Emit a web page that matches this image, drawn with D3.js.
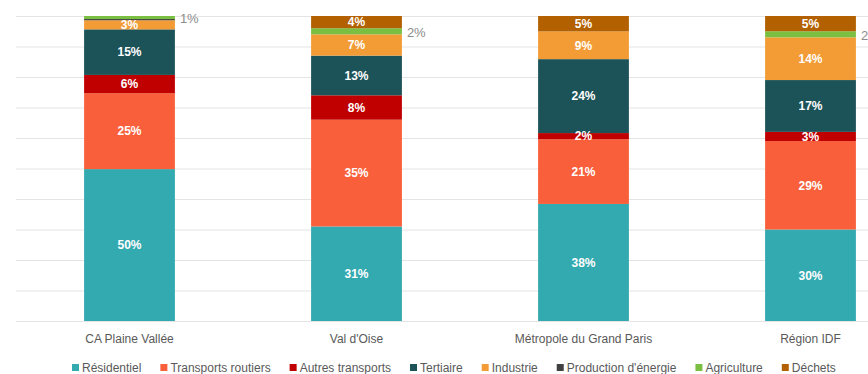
<!DOCTYPE html>
<html>
<head>
<meta charset="utf-8">
<script src="https://cdn.jsdelivr.net/npm/d3@7/dist/d3.min.js"></script>
<style>
  html, body { margin: 0; padding: 0; background: #fff; }
  svg { display: block; font-family: "Liberation Sans", Arial, sans-serif; }
</style>
</head>
<body>
<svg id="chart" width="868" height="374"></svg>
<script>
// Territories (categories)
const territories = ["CA Plaine Vallée", "Val d'Oise", "Métropole du Grand Paris", "Région IDF"];

// Emission sectors, bottom to top of each stack
const sectors = ["Résidentiel", "Transports routiers", "Autres transports", "Tertiaire",
                 "Industrie", "Production d'énergie", "Agriculture", "Déchets"];
const sectorColors = ["#33a9b0", "#f95f3a", "#c00000", "#1c5358",
                      "#f39c35", "#404040", "#7abf42", "#b36000"];

// Share of each sector (%) per territory, same order as territories
const residentiel        = [50, 31, 38, 30];
const transportsRoutiers = [25, 35, 21, 29];
const autresTransports   = [6, 8, 2, 3];
const tertiaire          = [15, 13, 24, 17];
const industrie          = [3, 7, 9, 14];
const productionEnergie  = [0.4, 0, 0, 0];
const agriculture        = [1, 2, 0, 2];
const dechets            = [0, 4, 5, 5];

// Percentage gridlines
const gridTicks = [0, 0.1, 0.2, 0.3, 0.4, 0.5, 0.6, 0.7, 0.8, 0.9, 1];

const seriesValues = [residentiel, transportsRoutiers, autresTransports, tertiaire,
                      industrie, productionEnergie, agriculture, dechets];

const rows = territories.map((t, i) => {
  const r = { territory: t };
  sectors.forEach((s, k) => { r[s] = seriesValues[k][i]; });
  return r;
});

const svg = d3.select("#chart");
const margin = { left: 16, top: 16, bottom: 53 };
const plotW = 908;
const plotH = 374 - margin.top - margin.bottom;

const x = d3.scaleBand().domain(territories).range([margin.left, margin.left + plotW])
  .paddingInner(0.6).paddingOuter(0.3);
const y = d3.scaleLinear().domain([0, 1]).range([margin.top + plotH, margin.top]);

// 100% stacked columns
const stacked = d3.stack().keys(sectors).offset(d3.stackOffsetExpand)(rows);

// Gridlines
svg.append("g")
  .attr("transform", `translate(${margin.left},0)`)
  .call(d3.axisLeft(y).tickValues(gridTicks).tickSize(-plotW).tickFormat(""))
  .call(g => g.select(".domain").remove())
  .call(g => g.selectAll(".tick line").attr("stroke", "#e4e4e4").attr("stroke-width", 1));

// Bars
const layers = svg.append("g").selectAll("g")
  .data(stacked).join("g")
  .attr("fill", (d, k) => sectorColors[k]);

layers.selectAll("rect")
  .data(d => d.map(p => ({ p, key: d.key })))
  .join("rect")
  .attr("x", d => x(d.p.data.territory))
  .attr("width", x.bandwidth())
  .attr("y", d => y(d.p[1]))
  .attr("height", d => Math.max(0, y(d.p[0]) - y(d.p[1])));

// Value labels: white inside the segment, grey to the right for thin Agriculture slices
const labels = [];
stacked.forEach((layer, k) => {
  layer.forEach(p => {
    const v = p.data[layer.key];
    if (v < 1) return;
    labels.push({ key: layer.key, v, p, k });
  });
});

svg.append("g").selectAll("text")
  .data(labels).join("text")
  .attr("x", d => d.key === "Agriculture"
      ? x(d.p.data.territory) + x.bandwidth() + 5
      : x(d.p.data.territory) + x.bandwidth() / 2)
  .attr("y", d => {
    const mid = (y(d.p[0]) + y(d.p[1])) / 2;
    return d.key === "Agriculture" ? mid + 1 : mid;
  })
  .attr("dy", "0.36em")
  .attr("text-anchor", d => d.key === "Agriculture" ? "start" : "middle")
  .attr("fill", d => d.key === "Agriculture" ? "#8c8c8c" : "#ffffff")
  .attr("font-size", d => d.key === "Agriculture" ? 13 : 12)
  .attr("font-weight", d => d.key === "Agriculture" ? "normal" : "bold")
  .text(d => d.v + "%");

// Category axis
svg.append("g")
  .attr("transform", `translate(0,${margin.top + plotH})`)
  .call(d3.axisBottom(x).tickSize(0).tickPadding(13))
  .call(g => g.select(".domain").remove())
  .call(g => g.selectAll("text").attr("fill", "#595959").attr("font-size", 12)
    .attr("font-family", "Liberation Sans, Arial, sans-serif"));

// Legend
const legend = svg.append("g").attr("transform", "translate(72,368)");
let lx = 0;
sectors.forEach((s, k) => {
  const item = legend.append("g").attr("transform", `translate(${lx},0)`);
  item.append("rect").attr("x", 0).attr("y", -4).attr("width", 7).attr("height", 7)
    .attr("fill", sectorColors[k]);
  const t = item.append("text").attr("x", 10).attr("y", 0).attr("dy", "0.36em")
    .attr("fill", "#595959").attr("font-size", 12).text(s);
  lx += 10 + t.node().getComputedTextLength() + 19;
});
</script>
</body>
</html>
